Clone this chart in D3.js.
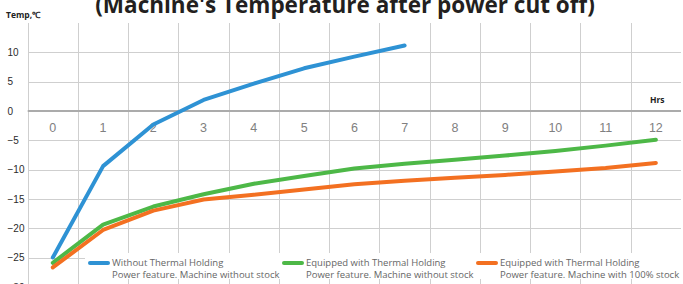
<!DOCTYPE html>
<html>
<head>
  <meta charset="UTF-8">
  <title>Machine's Temperature after power cut off</title>
  <script src="https://d3js.org/d3.v7.min.js"></script>
  <style>
    body { margin: 0; background: #fff; }
    svg { display: block; font-family: "Open Sans", sans-serif; }
    .grid line { stroke: #cfcfcf; stroke-width: 1; shape-rendering: crispEdges; }
    .axis .domain { display: none; }
    .xaxis text { fill: #808080; font-size: 12.5px; }
    .yaxis text { fill: #2b2b2b; font-size: 10px; }
    .series { fill: none; stroke-width: 4; stroke-linecap: round; stroke-linejoin: round; }
    .legend text { fill: #666; font-size: 9.5px; }
  </style>
</head>
<body>
  <div id="chart"></div>
  <script>
    // hours after the power cut
    var hours = ["0", "1", "2", "3", "4", "5", "6", "7", "8", "9", "10", "11", "12"];
    var yTicks = [-30, -25, -20, -15, -10, -5, 0, 5, 10];

    // temperatures, degC
    var withoutHolding = [-25, -9.4, -2.3, 1.9, 4.7, 7.3, 9.3, 11.2];
    var holdingNoStock = [-25.9, -19.4, -16.3, -14.2, -12.4, -11.1, -9.8, -9.0, -8.3, -7.6, -6.8, -5.9, -4.9];
    var holdingFullStock = [-26.7, -20.3, -17.0, -15.1, -14.3, -13.4, -12.5, -11.9, -11.4, -10.9, -10.3, -9.7, -8.85];

    var seriesNames = [
      ["Without Thermal Holding", "Power feature. Machine without stock"],
      ["Equipped with Thermal Holding", "Power feature. Machine without stock"],
      ["Equipped with Thermal Holding", "Power feature. Machine with 100% stock"]
    ];
    var colors = ["#2e92d4", "#4db847", "#f37021"];

    var W = 683, H = 284;
    var plotLeft = 27.7, plotRight = 681, plotTop = 23.2, plotBottom = 286.8;

    var svg = d3.select("#chart").append("svg")
      .attr("width", W)
      .attr("height", H);

    var xBand = d3.scaleBand().domain(hours).range([plotLeft, plotRight]).paddingInner(0);
    var x = function (h) { return xBand(h) + xBand.bandwidth() / 2; };
    var y = d3.scaleLinear().domain([-30, 15]).range([plotBottom, plotTop]);

    // vertical grid at band edges
    var vEdges = hours.map(function (h) { return xBand(h); });
    svg.append("g").attr("class", "grid")
      .selectAll("line").data(vEdges).enter().append("line")
      .attr("x1", function (d) { return Math.round(d) + 0.5; })
      .attr("x2", function (d) { return Math.round(d) + 0.5; })
      .attr("y1", y(15)).attr("y2", H);

    // horizontal grid
    svg.append("g").attr("class", "grid")
      .selectAll("line").data(yTicks.filter(function (d) { return d !== 0; })).enter().append("line")
      .attr("x1", plotLeft).attr("x2", plotRight)
      .attr("y1", function (d) { return Math.round(y(d)) + 0.5; })
      .attr("y2", function (d) { return Math.round(y(d)) + 0.5; });

    // zero line
    svg.append("line")
      .attr("x1", plotLeft).attr("x2", plotRight)
      .attr("y1", y(0)).attr("y2", y(0))
      .attr("stroke", "#ababab").attr("stroke-width", 2);

    // y labels (left aligned)
    var yAxis = svg.append("g").attr("class", "axis yaxis")
      .attr("transform", "translate(" + plotLeft + ",0)")
      .call(d3.axisLeft(y).tickValues(yTicks).tickSize(0).tickFormat(d3.format("d")));
    yAxis.selectAll("text").attr("text-anchor", "start").attr("x", 7.5 - plotLeft);

    // x labels under the zero line
    svg.append("g").attr("class", "axis xaxis")
      .attr("transform", "translate(0," + y(0) + ")")
      .call(d3.axisBottom(xBand).tickSize(0).tickPadding(12));

    // series
    var line = d3.line()
      .x(function (d, i) { return x(hours[i]); })
      .y(function (d) { return y(d); });

    [withoutHolding, holdingNoStock, holdingFullStock].forEach(function (vals, i) {
      svg.append("path").attr("class", "series")
        .attr("d", line(vals))
        .attr("stroke", colors[i]);
    });

    // axis titles
    svg.append("text").attr("x", 6).attr("y", 18)
      .attr("font-size", "8.5px").attr("font-weight", "bold").attr("fill", "#222")
      .text("Temp,\u2103");
    svg.append("text").attr("x", 650).attr("y", 103)
      .attr("font-size", "8.5px").attr("font-weight", "bold").attr("fill", "#222")
      .text("Hrs");

    // title, cut off at the top
    svg.append("text").attr("x", 345).attr("y", 13)
      .attr("text-anchor", "middle")
      .attr("font-size", "22.5px").attr("font-weight", "bold").attr("fill", "#231f20")
      .text("(Machine's Temperature after power cut off)");

    // legend
    var legend = svg.append("g").attr("class", "legend");
    legend.append("rect").attr("x", 85).attr("y", 253).attr("width", W - 85).attr("height", 26).attr("fill", "#fff");
    var legendX = [90, 284, 478];
    seriesNames.forEach(function (names, i) {
      var g = legend.append("g").attr("transform", "translate(" + legendX[i] + ",0)");
      g.append("line").attr("x1", 0).attr("x2", 18).attr("y1", 263).attr("y2", 263)
        .attr("stroke", colors[i]).attr("stroke-width", 4).attr("stroke-linecap", "round");
      g.append("text").attr("x", 22).attr("y", 265.5).text(names[0]);
      g.append("text").attr("x", 22).attr("y", 277.7).text(names[1]);
    });
  </script>
</body>
</html>
